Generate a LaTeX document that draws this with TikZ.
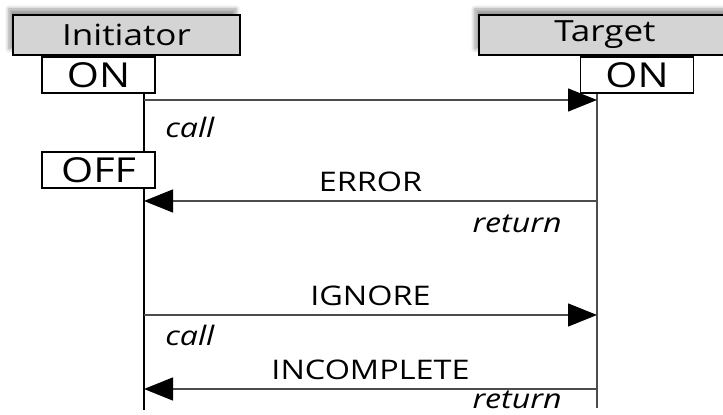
\documentclass[tikz,border=0pt]{standalone}
\usepackage{fontspec}
\setmainfont{Open Sans}[FakeStretch=1.2]
\usetikzlibrary{arrows.meta,shadows.blur}
\tikzset{
  header/.style={draw=black, line width=0.9pt, fill=black!17, inner sep=0pt,
    minimum height=20pt, font=\fontsize{14.6}{16}\selectfont,
    blur shadow={shadow xshift=-2pt, shadow yshift=3pt, shadow blur steps=6}},
  statebox/.style={draw=black, line width=0.8pt, fill=white, inner sep=0pt,
    minimum width=56.5pt, minimum height=18pt, font=\fontsize{17.2}{18}\selectfont},
  msg/.style={draw=black!70, line width=0.7pt,
    -{Triangle[length=14.5pt, width=11.5pt, fill=black, color=black]}},
  msglabel/.style={font=\fontsize{13.5}{15}\selectfont},
  kind/.style={inner sep=0pt, font=\fontsize{13.4}{15}\selectfont\itshape}
}
\begin{document}
\begin{tikzpicture}[x=0.5pt, y=-0.5pt]
    \path[use as bounding box, clip] (0, 0) rectangle (723, 415);
    % lifelines
    \draw[black!70, line width=0.8pt] (597, 55) -- (597, 408);
    \draw[black, line width=1.1pt] (144, 93) -- (144, 410);
    % headers
    \node[header, minimum width=113.5pt] (init) at (126.5, 35) {Initiator};
    \node[header, minimum width=126pt, text width=121pt, align=center,
      anchor=west] (targ) at (478, 35) {Target};
    % states
    \node[statebox] (ion) at (98.5, 75) {ON};
    \node[statebox] (ioff) at (98.5, 170) {OFF};
    \node[statebox] (ton) at (637, 75) {ON};
    % end points on the lifelines
    \coordinate (i1) at (144, 100);
    \coordinate (t1) at (597, 100);
    \coordinate (t2) at (597, 201);
    \coordinate (i2) at (144, 201);
    \coordinate (i3) at (144, 315);
    \coordinate (t3) at (597, 315);
    \coordinate (t4) at (597, 389);
    \coordinate (i4) at (144, 389);
    % messages
    \draw[msg] (i1) -- (t1);
    \draw[msg] (t2) -- (i2) node[msglabel, midway, above=1pt] {ERROR};
    \draw[msg] (i3) -- (t3) node[msglabel, midway, above=1pt] {IGNORE};
    \draw[msg] (t4) -- (i4) node[msglabel, midway, above=1pt] {INCOMPLETE};
    \node[kind, anchor=west] (c1) at (165, 127) {call};
    \node[kind, anchor=east] (r1) at (562, 224) {return};
    \node[kind, anchor=west] (c2) at (165, 335) {call};
    \node[kind, anchor=base east] (r2) at (562, 409) {return};
\end{tikzpicture}
\end{document}
